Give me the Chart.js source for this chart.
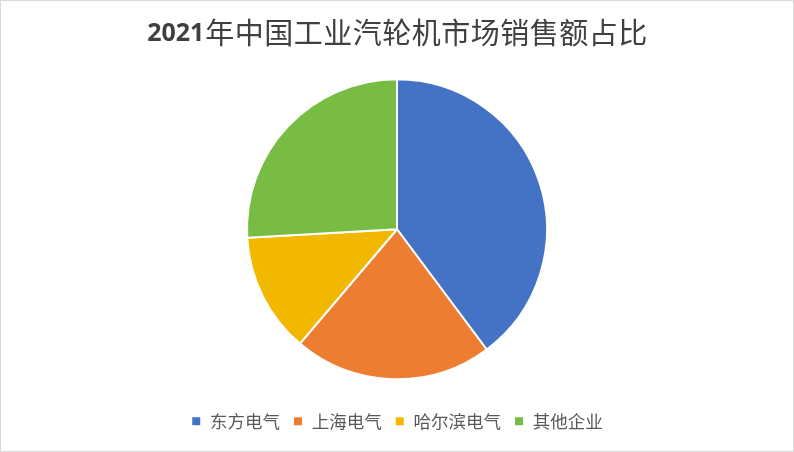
<!DOCTYPE html>
<html>
<head>
<meta charset="utf-8">
<script src="https://cdn.jsdelivr.net/npm/chart.js@4.4.1/dist/chart.umd.min.js"></script>
<style>
    html, body { margin: 0; padding: 0; background: #fff; }
    #wrap { width: 794px; height: 452px; box-sizing: border-box; border: 1px solid #d9d9d9; }
    canvas { display: block; }
</style>
</head>
<body>
<div id="wrap"><canvas id="pieChart" width="792" height="450"></canvas></div>
<script>
const titleYear = '2021';
const titleRest = '年中国工业汽轮机市场销售额占比';
const categories = ['东方电气', '上海电气', '哈尔滨电气', '其他企业'];
const shares = [39.8, 21.4, 12.9, 25.9];
const sliceColors = ['#4472C4', '#ED7D31', '#F2B800', '#78BC43'];

// title: bold digits + regular CJK, drawn as one centred line
const titlePlugin = {
    id: 'mixedTitle',
    afterDraw(chart)
    {
        const ctx = chart.ctx;
        const boldFont = 'bold 25px "Open Sans", "Noto Sans"';
        const cjkFont = '29px "Noto Sans CJK SC"';
        ctx.save();
        ctx.fillStyle = '#404040';
        ctx.textBaseline = 'middle';
        ctx.font = boldFont;
        const w1 = ctx.measureText(titleYear).width;
        ctx.font = cjkFont;
        ctx.letterSpacing = '0.5px';
        const w2 = ctx.measureText(titleRest).width;
        const x = chart.width / 2 - (w1 + w2) / 2;
        const y = 32;
        ctx.letterSpacing = '0px';
        ctx.font = boldFont;
        ctx.fillText(titleYear, x, y + 1);
        ctx.font = cjkFont;
        ctx.letterSpacing = '0.5px';
        ctx.fillText(titleRest, x + w1 + 1, y);
        ctx.restore();
    }
};

const ctx = document.getElementById('pieChart').getContext('2d');
new Chart(ctx, {
    type: 'pie',
    data: {
        labels: categories,
        datasets: [{
            data: shares,
            backgroundColor: sliceColors,
            borderColor: '#ffffff',
            borderWidth: 2,
            radius: 150
        }]
    },
    options: {
        responsive: false,
        animation: false,
        layout: {
            padding: { top: 58, bottom: 11 }
        },
        plugins: {
            title: { display: false },
            tooltip: { enabled: false },
            legend: {
                position: 'bottom',
                labels: {
                    boxWidth: 10,
                    boxHeight: 10,
                    padding: 13,
                    color: '#595959',
                    font: { family: '"Noto Sans CJK SC"', size: 17.5 }
                }
            }
        }
    },
    plugins: [titlePlugin]
});
</script>
</body>
</html>
